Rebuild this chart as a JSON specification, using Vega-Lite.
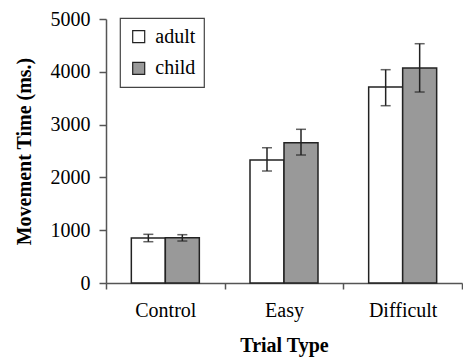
{
  "$schema": "https://vega.github.io/schema/vega-lite/v6.json",
  "autosize": "none",
  "width": 356,
  "height": 264,
  "padding": {"left": 106, "top": 19, "right": 1, "bottom": 74},
  "background": "white",
  "config": {
    "font": "Liberation Serif",
    "style": {"guide-label": {"font": "Liberation Serif"}, "guide-title": {"font": "Liberation Serif"}},
    "view": {"stroke": null},
    "axis": {"labelFont": "Liberation Serif", "titleFont": "Liberation Serif", "labelColor": "#000", "titleColor": "#000", "domainColor": "#555", "tickColor": "#555", "domainWidth": 1.5, "tickWidth": 1.5, "grid": false},
    "legend": {"strokeColor": "#444", "strokeWidth": 1.2, "fillColor": "white", "symbolStrokeWidth": 1.2, "symbolStrokeColor": "#222"}
  },
  "data": {
    "values": [
      {"type": "Control", "group": "adult", "mean": 850, "lo": 782, "hi": 922},
      {"type": "Control", "group": "child", "mean": 855, "lo": 795, "hi": 915},
      {"type": "Easy", "group": "adult", "mean": 2330, "lo": 2121, "hi": 2562},
      {"type": "Easy", "group": "child", "mean": 2657, "lo": 2424, "hi": 2911},
      {"type": "Difficult", "group": "adult", "mean": 3712, "lo": 3358, "hi": 4040},
      {"type": "Difficult", "group": "child", "mean": 4072, "lo": 3617, "hi": 4532}
    ]
  },
  "encoding": {
    "x": {
      "field": "type", "type": "nominal", "sort": ["Control", "Easy", "Difficult"],
      "scale": {"paddingInner": 0, "paddingOuter": 0},
      "axis": {"title": "Trial Type", "labelFont": "Liberation Serif", "titleFont": "Liberation Serif", "labelAngle": 0, "labelFontSize": 20, "titleFontSize": 20, "titleFontWeight": "bold", "tickBand": "extent", "tickSize": 6, "labelPadding": 11, "titleY": 68, "titleBaseline": "alphabetic"}
    },
    "xOffset": {"field": "group", "type": "nominal", "scale": {"paddingOuter": 0.745, "paddingInner": 0}}
  },
  "layer": [
    {
      "mark": {"type": "bar", "stroke": "#222", "strokeWidth": 1.5},
      "encoding": {
        "y": {
          "field": "mean", "type": "quantitative",
          "scale": {"domain": [0, 5000], "nice": false},
          "axis": {"title": "Movement Time (ms.)", "format": "d", "labelFont": "Liberation Serif", "titleFont": "Liberation Serif", "values": [0, 1000, 2000, 3000, 4000, 5000], "labelFontSize": 20, "titleFontSize": 20, "titleFontWeight": "bold", "tickSize": 7, "labelPadding": 9, "titleX": -82, "titleY": 132, "titleBaseline": "middle"}
        },
        "fill": {
          "field": "group", "type": "nominal",
          "scale": {"domain": ["adult", "child"], "range": ["#ffffff", "#999999"]},
          "legend": {"title": null, "orient": "none", "legendX": 14, "legendY": -1, "symbolType": "square", "symbolSize": 144, "labelFontSize": 20, "labelFont": "Liberation Serif", "labelColor": "#000", "padding": 8.7, "rowPadding": 11.6, "labelOffset": 6.6}
        }
      }
    },
    {
      "mark": {"type": "rule", "color": "#222", "strokeWidth": 1.5},
      "encoding": {
        "y": {"field": "lo", "type": "quantitative"},
        "y2": {"field": "hi"}
      }
    },
    {
      "mark": {"type": "tick", "color": "#222", "thickness": 1.5, "size": 10},
      "encoding": {"y": {"field": "lo", "type": "quantitative"}}
    },
    {
      "mark": {"type": "tick", "color": "#222", "thickness": 1.5, "size": 10},
      "encoding": {"y": {"field": "hi", "type": "quantitative"}}
    }
  ]
}
